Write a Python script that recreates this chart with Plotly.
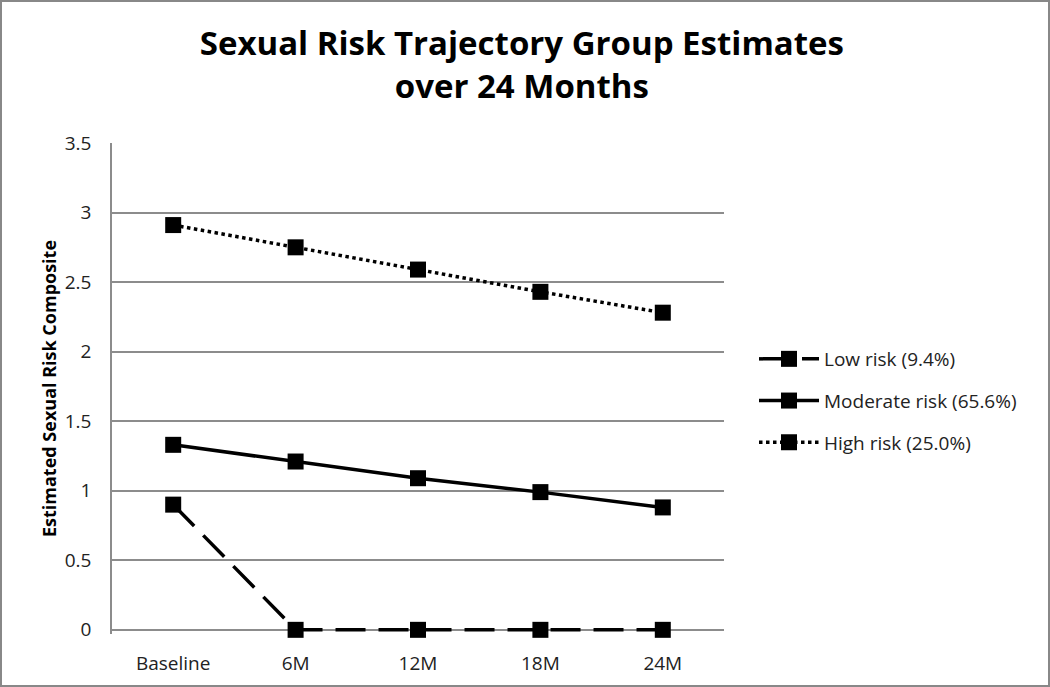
import plotly.graph_objects as go

categories = ["Baseline", "6M", "12M", "18M", "24M"]
low_risk = [0.90, 0.0, 0.0, 0.0, 0.0]
moderate_risk = [1.33, 1.21, 1.09, 0.99, 0.88]
high_risk = [2.91, 2.75, 2.59, 2.43, 2.28]
series_names = ["Low risk (9.4%)", "Moderate risk (65.6%)", "High risk (25.0%)"]
y_ticks = [0, 0.5, 1, 1.5, 2, 2.5, 3, 3.5]
y_tick_labels = ["0", "0.5", "1", "1.5", "2", "2.5", "3", "3.5"]

W, H = 1050, 687
L, R, T, B = 112, 326, 143, 53
PW, PH = W - L - R, H - T - B

fig = go.Figure()
styles = [("30px,13px", low_risk), ("solid", moderate_risk), ("dot", high_risk)]
for i, (name, (dash, vals)) in enumerate(zip(series_names, styles)):
    fig.add_trace(go.Scatter(
        x=categories, y=vals, name=name, mode="lines+markers",
        legendgroup=f"g{i}", cliponaxis=False,
        line=dict(color="black", width=3.5, dash=dash),
        marker=dict(symbol="square", size=16, color="black"),
    ))

fig.update_layout(
    width=W, height=H,
    paper_bgcolor="white", plot_bgcolor="white",
    margin=dict(l=L, r=R, t=T, b=B),
    font=dict(family="Open Sans, Noto Sans, sans-serif", size=19, color="#222"),
    title=dict(
        text="<b>Sexual Risk Trajectory Group Estimates<br>over 24 Months</b>",
        x=0.497, xanchor="center", yref="container", y=1 - 55 / H, yanchor="middle",
        font=dict(size=33, color="black", family="Open Sans, sans-serif"),
    ),
    xaxis=dict(
        type="category", range=[-0.5, 4.5], showgrid=False,
        showline=False, zeroline=False, ticks="",
        ticklabelstandoff=16,
        tickfont=dict(size=19, color="#222"),
    ),
    yaxis=dict(
        range=[-0.03, 3.5], tickvals=y_ticks, ticktext=y_tick_labels,
        showgrid=True, gridcolor="#8c8c8c", gridwidth=1.5,
        showline=True, linecolor="#8c8c8c", linewidth=1.5,
        zeroline=True, zerolinecolor="#8c8c8c", zerolinewidth=1.5,
        ticks="", ticklen=0, ticklabelstandoff=15,
        tickfont=dict(size=19, color="#222"),
        title=dict(text="<b>Estimated Sexual Risk Composite</b>", font=dict(size=18, color="black"), standoff=3),
    ),
    legend=dict(
        x=(754 - L) / PW, xanchor="left", y=(H - B - 401) / PH, yanchor="middle",
        font=dict(size=19, color="#222"), tracegroupgap=14,
        itemwidth=60, bgcolor="rgba(0,0,0,0)",
    ),
    showlegend=True,
)

fig.add_shape(type="rect", xref="paper", yref="paper",
              x0=(1 - L) / PW, x1=(W - 1 - L) / PW,
              y0=(H - B - (H - 1)) / PH, y1=(H - B - 1) / PH,
              line=dict(color="#888", width=2), fillcolor="rgba(0,0,0,0)", layer="below")

fig.write_html("out.html", config={"displayModeBar": False},
               post_script="document.body.style.margin='0';document.body.style.overflow='hidden';")
